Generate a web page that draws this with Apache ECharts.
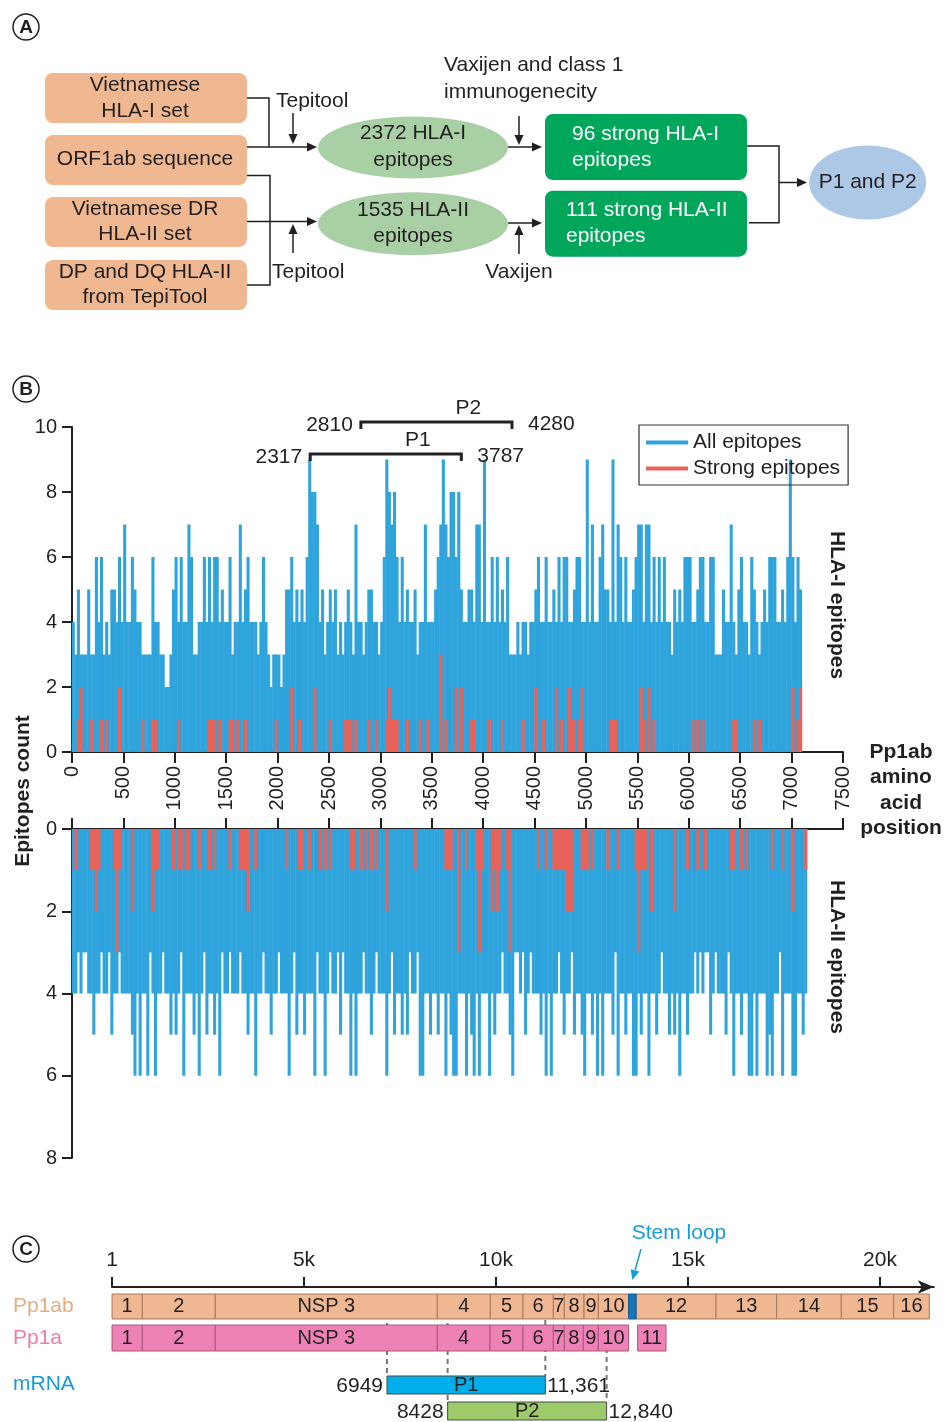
<!DOCTYPE html>
<html>
<head>
<meta charset="utf-8">
<script src="https://cdn.jsdelivr.net/npm/echarts@6/dist/echarts.min.js"></script>
<style>
html, body { margin: 0; padding: 0; background: #fff; }
#chart { width: 944px; height: 1422px; }
</style>
</head>
<body>
<div id="chart"></div>
<script>
const FONT = '"Liberation Sans", Arial, Helvetica, sans-serif';
const INK = '#231f20';
const BLUE = '#2fa4dc';
const RED = '#e8625a';

// Panel B: epitope counts, one value per 25-aa window of Pp1ab
const BIN = 25;
const hla1All = [
    4,3,5,3, 3,3,5,3, 3,6,4,6, 3,4,3,5, 5,4,6,4,
    7,4,4,6, 5,4,4,3, 3,3,3,6, 4,4,3,3, 2,2,3,5,
    6,4,6,4, 4,7,6,3, 3,4,4,6, 4,6,4,6, 6,4,5,4,
    4,6,3,4, 4,7,4,5, 6,4,4,4, 3,4,6,4, 3,2,3,3,
    3,2,3,5, 5,6,4,5, 4,5,4,6, 9,8,8,7, 4,5,3,4,
    5,4,5,3, 4,3,4,5, 4,3,7,4, 4,3,4,5, 5,4,4,3,
    4,6,9,8, 7,8,6,4, 6,4,5,4, 4,5,3,4, 4,7,4,4,
    4,5,6,7, 9,7,6,8, 8,6,8,5, 4,4,5,5, 4,7,7,4,
    9,4,4,6, 4,6,4,5, 4,6,3,3, 3,4,3,4, 4,3,4,4,
    5,6,4,4, 6,4,4,5, 4,6,4,6, 6,4,4,5, 6,6,4,4,
    9,4,7,4, 4,6,7,5, 5,4,9,4, 7,6,4,6, 4,4,5,6,
    7,7,4,7, 7,4,6,4, 6,4,6,4, 4,3,5,4, 5,4,6,6,
    6,4,4,5, 6,6,4,4, 6,6,3,3, 3,5,4,4, 7,4,3,5,
    6,4,4,3, 6,5,4,3, 4,5,4,6, 6,6,4,4, 5,4,6,9,
    6,4,6,5
];
const hla1StrongPos = [
    50, 75, 175, 275, 325,
    450, 675, 775, 800, 1025,
    1325, 1350, 1375, 1425, 1525,
    1550, 1600, 1675, 1975, 2125,
    2200, 2350, 2500, 2650, 2675,
    2700, 2750, 2875, 2950, 3050,
    3075, 3100, 3125, 3150, 3250,
    3375, 3450, 3575, 3625, 3725,
    3775, 3875, 3900, 4050, 4175,
    4375, 4500, 4575, 4700, 4750,
    4825, 4850, 4875, 4925, 4950,
    5225, 5250, 5275, 5525, 5550,
    5600, 5650, 6025, 6075, 6125,
    6425, 6450, 6625, 6675, 7000,
    7050, 7075
];
const hla1StrongCount = [
    1,2,1,1,1, 2,1,1,1,1, 1,1,1,1,1, 1,1,1,1,2,
    1,2,1,1,1, 1,1,1,1,1, 2,1,1,1,1, 1,1,3,1,2,
    2,1,1,1,1, 1,2,1,2,1, 2,1,1,1,2, 1,1,1,2,1,
    2,1,1,1,1, 1,1,1,1,2, 1,2
];
const hla2All = [
    4,4,3,4, 3,3,4,4, 5,4,4,3, 4,4,3,5, 4,4,3,4,
    4,4,4,5, 6,4,6,4, 4,6,3,4, 6,4,4,3, 4,4,5,4,
    5,4,3,6, 4,4,4,5, 4,6,4,3, 5,4,4,5, 4,6,3,4,
    4,3,4,4, 4,3,4,4, 5,4,4,6, 4,4,3,4, 4,5,4,4,
    3,4,4,4, 6,4,3,5, 4,4,5,4, 4,4,6,3, 4,4,6,4,
    3,4,4,3, 5,3,4,4, 6,4,6,4, 4,3,4,4, 5,4,3,4,
    4,4,6,4, 3,5,4,4, 5,4,5,3, 4,4,3,6, 6,4,4,5,
    4,4,5,4, 4,6,4,5, 6,6,4,4, 4,6,4,5, 6,4,6,4,
    4,4,6,4, 5,4,4,3, 4,4,5,6, 3,3,4,3, 5,4,3,4,
    4,4,5,4, 6,4,6,4, 4,3,4,5, 4,4,3,5, 4,4,5,6,
    4,4,5,4, 6,4,6,4, 4,4,5,3, 6,4,4,5, 4,4,6,6,
    4,5,4,4, 6,4,4,5, 4,3,4,4, 5,4,5,4, 6,4,4,5,
    4,4,3,4, 3,4,3,3, 5,4,3,4, 4,4,5,3, 4,6,4,4,
    5,4,4,6, 6,4,6,4, 4,4,6,5, 6,4,4,3, 6,4,4,4,
    6,6,4,4, 5,4
];
const hla2StrongPos = [
    25, 175, 200, 225, 250,
    400, 425, 450, 575, 775,
    800, 825, 975, 1025, 1050,
    1100, 1125, 1225, 1325, 1375,
    1525, 1625, 1650, 1675, 1700,
    1775, 2075, 2200, 2225, 2300,
    2400, 2450, 2500, 2700, 2725,
    2800, 2850, 2900, 2950, 3050,
    3325, 3625, 3650, 3675, 3750,
    3825, 3925, 3950, 3975, 4075,
    4100, 4125, 4150, 4225, 4250,
    4525, 4600, 4675, 4700, 4725,
    4750, 4775, 4800, 4825, 4850,
    4950, 4975, 5000, 5050, 5200,
    5300, 5475, 5500, 5525, 5550,
    5575, 5625, 5850, 5975, 6075,
    6150, 6400, 6425, 6500, 6550,
    6800, 6900, 7000, 7125
];
const hla2StrongCount = [
    1,1,1,2,1, 1,3,1,2,2, 1,1,1,1,1, 1,1,1,1,1,
    1,1,1,1,2, 1,1,1,1,1, 1,1,1,1,1, 1,1,1,1,2,
    1,1,1,1,3, 1,1,3,1,2, 1,2,1,1,3, 1,1,1,1,1,
    1,1,2,2,2, 1,1,1,1,1, 1,1,3,1,1, 1,2,2,1,1,
    1,1,1,1,1, 1,1,2,1
];

// Peptide spans marked above the HLA-I plot
const peptideNames = ['P1', 'P2'];
const peptideStart = [2317, 2810];
const peptideEnd = [3787, 4280];

// Panel C: genome map (nt)
const pp1abLabels = ['1', '2', 'NSP 3', '4', '5', '6', '7', '8', '9', '10', '12', '13', '14', '15', '16'];
const pp1abStarts = [1, 789, 2690, 8471, 9852, 10703, 11492, 11779, 12292, 12664, 13646, 15729, 17307, 18992, 20354];
const pp1abEnds = [789, 2690, 8471, 9852, 10703, 11492, 11779, 12292, 12664, 13453, 15729, 17307, 18992, 20354, 21284];
const stemLoop = [13453, 13646];
const pp1aLabels = ['1', '2', 'NSP 3', '4', '5', '6', '7', '8', '9', '10', '11'];
const pp1aStarts = [1, 789, 2690, 8471, 9844, 10703, 11492, 11779, 12273, 12664, 13688];
const pp1aEnds = [789, 2690, 8471, 9844, 10703, 11492, 11779, 12273, 12664, 13453, 14427];
const mrnaNames = ['P1', 'P2'];
const mrnaStarts = [7161, 8740];
const mrnaEnds = [11284, 12880];
const mrnaStartText = ['6949', '8428'];
const mrnaEndText = ['11,361', '12,840'];
const genomeTicks = [0, 5000, 10000, 15000, 20000];
const genomeTickLabels = ['1', '5k', '10k', '15k', '20k'];

// row layout of panel C (offset from the axis, height)
const ROW_TOP = [7, 38, 89, 115];
const ROW_H = [25, 26, 18, 18];

const segs = [];
pp1abLabels.forEach((lab, i) => segs.push({start: pp1abStarts[i], end: pp1abEnds[i], row: 0, label: lab, fill: '#efb792', stroke: '#a67b5d'}));
segs.push({start: stemLoop[0], end: stemLoop[1], row: 0, label: '', fill: '#1577ba', stroke: '#0d5a8f'});
pp1aLabels.forEach((lab, i) => segs.push({start: pp1aStarts[i], end: pp1aEnds[i], row: 1, label: lab, fill: '#ee82b4', stroke: '#a8587f'}));
mrnaNames.forEach((lab, i) => segs.push({start: mrnaStarts[i], end: mrnaEnds[i], row: 2 + i, label: lab, fill: i === 0 ? '#00aee9' : '#9dcb6b', stroke: '#4a4a4a'}));

function renderSeg(params, api) {
    const s = segs[params.dataIndex];
    const x0 = api.coord([s.start, 0])[0];
    const x1 = api.coord([s.end, 0])[0];
    const top = params.coordSys.y + ROW_TOP[s.row];
    return {
        type: 'rect',
        shape: {x: x0, y: top, width: x1 - x0, height: ROW_H[s.row]},
        style: {fill: s.fill, stroke: s.stroke, lineWidth: 1},
        textContent: {style: {text: s.label, fill: INK, font: '20px ' + FONT}},
        textConfig: {position: 'inside'}
    };
}

// a touch wider than the window so neighbouring bars leave no hairline gaps
const barPx = BIN * 771 / 7500 + 0.5;

const axisLineStyle = {color: INK, width: 2};
const tickLabel = {fontSize: 20, fontFamily: FONT, color: INK};

const chart = echarts.init(document.getElementById('chart'));

const option = {
    animation: false,
    backgroundColor: '#fff',
    grid: [
        {left: 72, top: 427, width: 771, height: 325},
        {left: 72, top: 829, width: 771, height: 329},
        {left: 112, top: 1287, width: 821.8, height: 134}
    ],
    legend: {
        data: ['All epitopes', 'Strong epitopes'],
        orient: 'vertical',
        left: 639,
        top: 425,
        icon: 'rect',
        itemWidth: 42,
        itemHeight: 4,
        itemGap: 5,
        padding: [7, 8, 6, 7],
        borderColor: '#333',
        borderWidth: 1.2,
        selectedMode: false,
        textStyle: {fontSize: 21, fontFamily: FONT, color: INK}
    },
    xAxis: [
        {
            gridIndex: 0, type: 'value', min: 0, max: 7500, interval: 500,
            axisLine: {onZero: false, lineStyle: axisLineStyle},
            axisTick: {length: 11, lineStyle: axisLineStyle},
            axisLabel: Object.assign({rotate: 90, margin: 14, formatter: v => String(v)}, tickLabel),
            splitLine: {show: false}
        },
        {
            gridIndex: 1, type: 'value', position: 'top', min: 0, max: 7500, interval: 500,
            axisLine: {onZero: false, lineStyle: axisLineStyle},
            axisTick: {length: 11, lineStyle: axisLineStyle},
            axisLabel: {show: false},
            splitLine: {show: false}
        },
        {
            gridIndex: 2, type: 'value', position: 'top', min: 0, max: 21400,
            axisLine: {onZero: false, lineStyle: axisLineStyle, symbol: ['none', 'arrow'], symbolSize: [10, 16]},
            axisTick: {customValues: genomeTicks, length: 10, lineStyle: axisLineStyle},
            axisLabel: Object.assign({
                customValues: genomeTicks, margin: 16,
                formatter: v => genomeTickLabels[genomeTicks.indexOf(v)]
            }, tickLabel, {fontSize: 21}),
            splitLine: {show: false}
        }
    ],
    yAxis: [
        {
            gridIndex: 0, type: 'value', min: 0, max: 10, interval: 2,
            axisLine: {show: true, lineStyle: axisLineStyle},
            axisTick: {show: true, length: 10, lineStyle: axisLineStyle},
            axisLabel: Object.assign({margin: 15}, tickLabel),
            splitLine: {show: false}
        },
        {
            gridIndex: 1, type: 'value', inverse: true, min: 0, max: 8, interval: 2,
            axisLine: {show: true, lineStyle: axisLineStyle},
            axisTick: {show: true, length: 10, lineStyle: axisLineStyle},
            axisLabel: Object.assign({margin: 15}, tickLabel),
            splitLine: {show: false}
        },
        {gridIndex: 2, type: 'value', min: 0, max: 1, show: false}
    ],
    series: [
        {
            name: 'All epitopes', type: 'bar', xAxisIndex: 0, yAxisIndex: 0,
            barWidth: barPx, barGap: '-100%',
            itemStyle: {color: BLUE},
            data: hla1All.map((v, i) => [i * BIN + BIN / 2, v])
        },
        {
            name: 'Strong epitopes', type: 'bar', xAxisIndex: 0, yAxisIndex: 0,
            barWidth: barPx, barGap: '-100%',
            itemStyle: {color: RED},
            data: hla1StrongPos.map((p, i) => [p + BIN / 2, hla1StrongCount[i]])
        },
        {
            name: 'All epitopes', type: 'bar', xAxisIndex: 1, yAxisIndex: 1,
            barWidth: barPx, barGap: '-100%',
            itemStyle: {color: BLUE},
            data: hla2All.map((v, i) => [i * BIN + BIN / 2, v])
        },
        {
            name: 'Strong epitopes', type: 'bar', xAxisIndex: 1, yAxisIndex: 1,
            barWidth: barPx, barGap: '-100%',
            itemStyle: {color: RED},
            data: hla2StrongPos.map((p, i) => [p + BIN / 2, hla2StrongCount[i]])
        },
        {
            type: 'custom', xAxisIndex: 2, yAxisIndex: 2,
            renderItem: renderSeg,
            encode: {x: [0, 1]},
            clip: false,
            data: segs.map(s => [s.start, s.end, 0])
        }
    ]
};

chart.setOption(option);

// ---- drawing helpers for the schematic parts
function txt(x, y, text, opt = {}) {
    return {
        type: 'text', x: x, y: y, rotation: opt.rotation || 0, z: 10,
        style: {
            text: text,
            fill: opt.color || INK,
            font: (opt.bold ? 'bold ' : '') + (opt.size || 21) + 'px ' + FONT,
            align: opt.align || 'center',
            verticalAlign: 'middle'
        }
    };
}

function poly(points, color, width) {
    return {type: 'polyline', z: 10, shape: {points: points}, style: {stroke: color || INK, lineWidth: width || 1.5, fill: null}};
}

function arrow(x1, y1, x2, y2, color) {
    const a = Math.atan2(y2 - y1, x2 - x1);
    const L = 10, W = 4.5;
    const bx = x2 - L * Math.cos(a), by = y2 - L * Math.sin(a);
    const nx = -Math.sin(a) * W, ny = Math.cos(a) * W;
    return [
        {type: 'line', z: 10, shape: {x1: x1, y1: y1, x2: bx, y2: by}, style: {stroke: color || INK, lineWidth: 1.5}},
        {type: 'polygon', z: 10, shape: {points: [[x2, y2], [bx + nx, by + ny], [bx - nx, by - ny]]}, style: {fill: color || INK}}
    ];
}

function box(x, y, w, h, fill) {
    return {type: 'rect', z: 5, shape: {x: x, y: y, width: w, height: h, r: 8}, style: {fill: fill}};
}

function ellipse(cx, cy, rx, ry, fill) {
    return {type: 'ellipse', z: 5, shape: {cx: cx, cy: cy, rx: rx, ry: ry}, style: {fill: fill}};
}

function panelMark(cx, cy, letter) {
    return [
        {type: 'circle', z: 10, shape: {cx: cx, cy: cy, r: 13}, style: {fill: null, stroke: INK, lineWidth: 1.5}},
        txt(cx, cy + 1, letter, {bold: true, size: 19})
    ];
}

const g = [];

// ---- Panel A: workflow
g.push(...panelMark(26, 27, 'A'));
const PEACH = '#f0b891';
g.push(box(45, 73, 202, 50, PEACH), box(45, 135, 202, 50, PEACH), box(45, 197, 202, 50, PEACH), box(45, 260, 202, 50, PEACH));
g.push(txt(145, 85, 'Vietnamese'), txt(145, 111, 'HLA-I set'));
g.push(txt(145, 159, 'ORF1ab sequence'));
g.push(txt(145, 209, 'Vietnamese DR'), txt(145, 234, 'HLA-II set'));
g.push(txt(145, 272, 'DP and DQ HLA-II'), txt(145, 297, 'from TepiTool'));

g.push(poly([[247, 98], [269, 98], [269, 147]]));
g.push(...arrow(247, 147, 317, 147));
g.push(poly([[247, 175.5], [270, 175.5], [270, 285], [247, 285]]));
g.push(...arrow(247, 221.5, 317, 221.5));
g.push(txt(276, 101, 'Tepitool', {align: 'left'}));
g.push(...arrow(293, 113, 293, 144));
g.push(txt(272, 272, 'Tepitool', {align: 'left'}));
g.push(...arrow(293, 253, 293, 224));

const SAGE = '#a9cfa5';
g.push(ellipse(413, 147.5, 95, 31, SAGE), ellipse(413, 223.7, 95, 31.5, SAGE));
g.push(txt(413, 133, '2372 HLA-I'), txt(413, 160, 'epitopes'));
g.push(txt(413, 210, '1535 HLA-II'), txt(413, 236, 'epitopes'));

g.push(...arrow(508, 147, 542, 147));
g.push(...arrow(508, 223, 542, 223));
g.push(...arrow(519, 116, 519, 145));
g.push(...arrow(519, 254, 519, 225));
g.push(txt(444, 65, 'Vaxijen and class 1', {align: 'left'}), txt(444, 92, 'immunogenecity', {align: 'left'}));
g.push(txt(519, 272, 'Vaxijen'));

const GREEN = '#00a65a';
g.push(box(545, 114, 202, 66, GREEN), box(545, 190.7, 202, 66, GREEN));
g.push(txt(572, 134, '96 strong HLA-I', {align: 'left', color: '#fff'}), txt(572, 160, 'epitopes', {align: 'left', color: '#fff'}));
g.push(txt(566, 210, '111 strong HLA-II', {align: 'left', color: '#fff'}), txt(566, 236, 'epitopes', {align: 'left', color: '#fff'}));
g.push(poly([[747, 146], [779, 146], [779, 222.7], [749, 222.7]]));
g.push(...arrow(779, 182.5, 807, 182.5));
g.push(ellipse(867.7, 182.5, 58.5, 37, '#adc7e6'));
g.push(txt(867.7, 182, 'P1 and P2'));

// ---- Panel B: labels and peptide brackets
g.push(...panelMark(26, 389, 'B'));
g.push(txt(23, 791, 'Epitopes count', {bold: true, rotation: Math.PI / 2}));
g.push(txt(837, 605, 'HLA-I epitopes', {bold: true, rotation: -Math.PI / 2}));
g.push(txt(837, 957, 'HLA-II epitopes', {bold: true, rotation: -Math.PI / 2}));
['Pp1ab', 'amino', 'acid', 'position'].forEach((w, i) => g.push(txt(901, 752 + i * 25.5, w, {bold: true})));

const bracketY = [454, 422];
peptideNames.forEach((name, i) => {
    const x0 = chart.convertToPixel({xAxisIndex: 0, yAxisIndex: 0}, [peptideStart[i], 0])[0];
    const x1 = chart.convertToPixel({xAxisIndex: 0, yAxisIndex: 0}, [peptideEnd[i], 0])[0];
    const y = bracketY[i];
    g.push(poly([[x0, y + 7], [x0, y], [x1, y], [x1, y + 7]], '#222', 3));
    g.push(txt((x0 + x1) / 2 + 32, y - 14, name));
    g.push(txt(x0 - 8, y + 3, String(peptideStart[i]), {align: 'right'}));
    g.push(txt(x1 + 16, y + 2, String(peptideEnd[i]), {align: 'left'}));
});

// ---- Panel C: labels, dashed guides and stem loop
g.push(...panelMark(26, 1249, 'C'));
g.push(txt(13, 1306, 'Pp1ab', {align: 'left', color: '#e6ad86'}));
g.push(txt(13, 1338, 'Pp1a', {align: 'left', color: '#e97fb0'}));
g.push(txt(13, 1384, 'mRNA', {align: 'left', color: '#1a9ad6'}));

const cx = v => chart.convertToPixel({xAxisIndex: 2, yAxisIndex: 2}, [v, 0])[0];
const gridTopC = 1287;
mrnaNames.forEach((name, i) => {
    const x0 = cx(mrnaStarts[i]);
    const x1 = cx(mrnaEnds[i]);
    const yTop = gridTopC + ROW_TOP[2 + i];
    const yMid = yTop + ROW_H[2 + i] / 2;
    const dash = {stroke: '#777', lineWidth: 2, lineDash: [5, 4]};
    g.push({type: 'line', z: 0, shape: {x1: x0, y1: 1323, x2: x0, y2: yTop}, style: dash});
    g.push({type: 'line', z: 0, shape: {x1: x1, y1: i === 0 ? 1320 : 1330, x2: x1, y2: yTop}, style: dash});
    g.push(txt(x0 - 4, yMid + 1, mrnaStartText[i], {align: 'right'}));
    g.push(txt(x1 + 2, yMid + 1, mrnaEndText[i], {align: 'left'}));
});
const stemX = cx((stemLoop[0] + stemLoop[1]) / 2);
g.push(txt(679, 1233, 'Stem loop', {color: '#1a9ad6'}));
g.push(...arrow(641, 1249, stemX, 1280, '#1a9ad6'));

chart.setOption({graphic: {elements: g}});
</script>
</body>
</html>
